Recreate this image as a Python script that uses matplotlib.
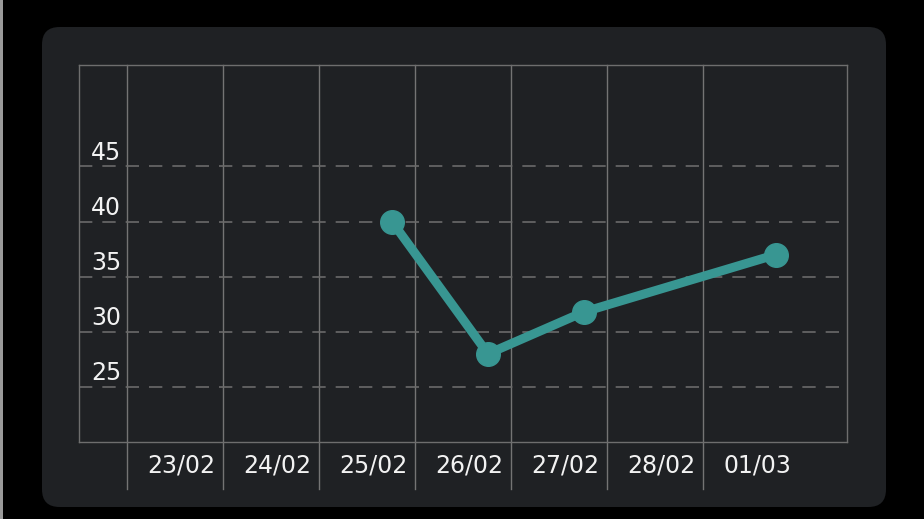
import matplotlib
matplotlib.use("Agg")
import matplotlib.pyplot as plt
from matplotlib.patches import FancyBboxPatch, Rectangle
import matplotlib.transforms as mtransforms

# ---------------- data ----------------
dates = ["23/02", "24/02", "25/02", "26/02", "27/02", "28/02", "01/03"]
point_idx = [2, 3, 4, 6]            # which dates carry a value
values = [40, 28, 31.8, 37]
y_ticks = [25, 30, 35, 40, 45]

# ---------------- figure ----------------
W, H = 924, 519
fig = plt.figure(figsize=(W / 100, H / 100), dpi=100, facecolor="black")

# thin grey edge on the left
fig.patches.append(Rectangle((0, 0), 3 / W, 1, transform=fig.transFigure,
                             facecolor="#9a9a9a", edgecolor="none", zorder=-10))
# rounded panel
panel = FancyBboxPatch((42 / W, 1 - 507 / H), (886 - 42) / W, (507 - 27) / H,
                       boxstyle="round,pad=0,rounding_size=0.019",
                       transform=fig.transFigure, facecolor="#1f2124",
                       edgecolor="none", mutation_aspect=W / H, zorder=-10)
fig.patches.append(panel)

# axes = inner box
left, right, top, bottom = 79, 847, 65, 442
ax = fig.add_axes([left / W, 1 - bottom / H, (right - left) / W, (bottom - top) / H])
ax.set_zorder(5)
ax.set_facecolor("none")
ax.set_xlim(-0.5, 7.5)
ax.set_ylim(20, 54.2)
for s in ax.spines.values():
    s.set_color("#6e6e6e")
    s.set_linewidth(1)
ax.set_xticks([])
ax.set_yticks([])

grid_col = "#747474"
below = -(489 - bottom) / (bottom - top)
lab_tr = mtransforms.blended_transform_factory(ax.transData, ax.transAxes)
for i in range(len(dates)):
    ax.axvline(i, ymin=below, ymax=1, color=grid_col, lw=1, clip_on=False, zorder=1)
    ax.text(i + 0.57, below / 2, dates[i], transform=lab_tr,
            ha="center", va="center", color="#f2f2f2", fontsize=17)

for v in y_ticks:
    ax.axhline(v, color="#6a6a6a", lw=1.2, ls=(0, (8, 6)), zorder=1)
    ax.text(-0.375, v + 0.6, str(v), ha="left", va="baseline", color="#f2f2f2", fontsize=17)

xs = [i + 0.76 for i in point_idx]
ax.plot(xs, values, color="#389692", lw=6.5, marker="o", markersize=17,
        solid_capstyle="round", zorder=3)

fig.savefig("out.png", dpi=100, facecolor="black")
